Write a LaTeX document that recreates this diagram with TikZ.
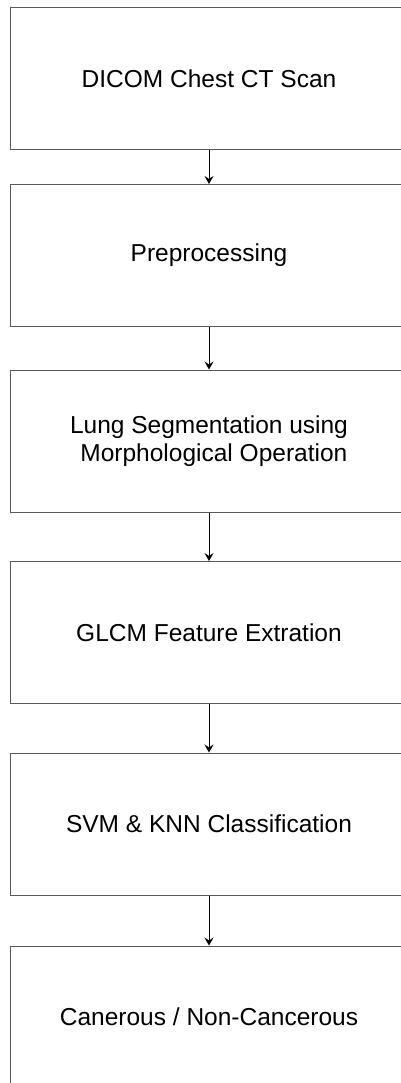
\documentclass[tikz,border=0pt]{standalone}
\usepackage{fontspec}
\setmainfont{Liberation Sans}
\usetikzlibrary{arrows.meta}
\begin{document}
\begin{tikzpicture}[x=1pt,y=-1pt,
  stepbox/.style={draw=black!65, line width=1pt, minimum width=397pt, minimum height=142pt, inner sep=0pt, align=center, font=\fontsize{24.5pt}{28pt}\selectfont},
  flow/.style={draw=black, line width=1pt, -{Stealth[length=8pt,width=9pt,inset=3pt]}}]
\useasboundingbox (0,0) rectangle (401,1083);
\clip (0,0) rectangle (401,1083);
\fill[white] (0,0) rectangle (401,1083);
\node[stepbox] (b1) at (209,79) {DICOM Chest CT Scan};
\node[stepbox] (b2) at (209,255.5) {Preprocessing};
\node[stepbox] (b3) at (209,441) {Lung Segmentation using\\\hspace*{0.4em}Morphological Operation};
\node[stepbox] (b4) at (209,632.5) {GLCM Feature Extration};
\node[stepbox] (b5) at (209,824) {SVM \& KNN Classification};
\node[stepbox] (b6) at (209,1017) {Canerous / Non-Cancerous};
\draw[flow] (b1.south) -- (b2.north);
\draw[flow] (b2.south) -- (b3.north);
\draw[flow] (b3.south) -- (b4.north);
\draw[flow] (b4.south) -- (b5.north);
\draw[flow] (b5.south) -- (b6.north);
\end{tikzpicture}
\end{document}
